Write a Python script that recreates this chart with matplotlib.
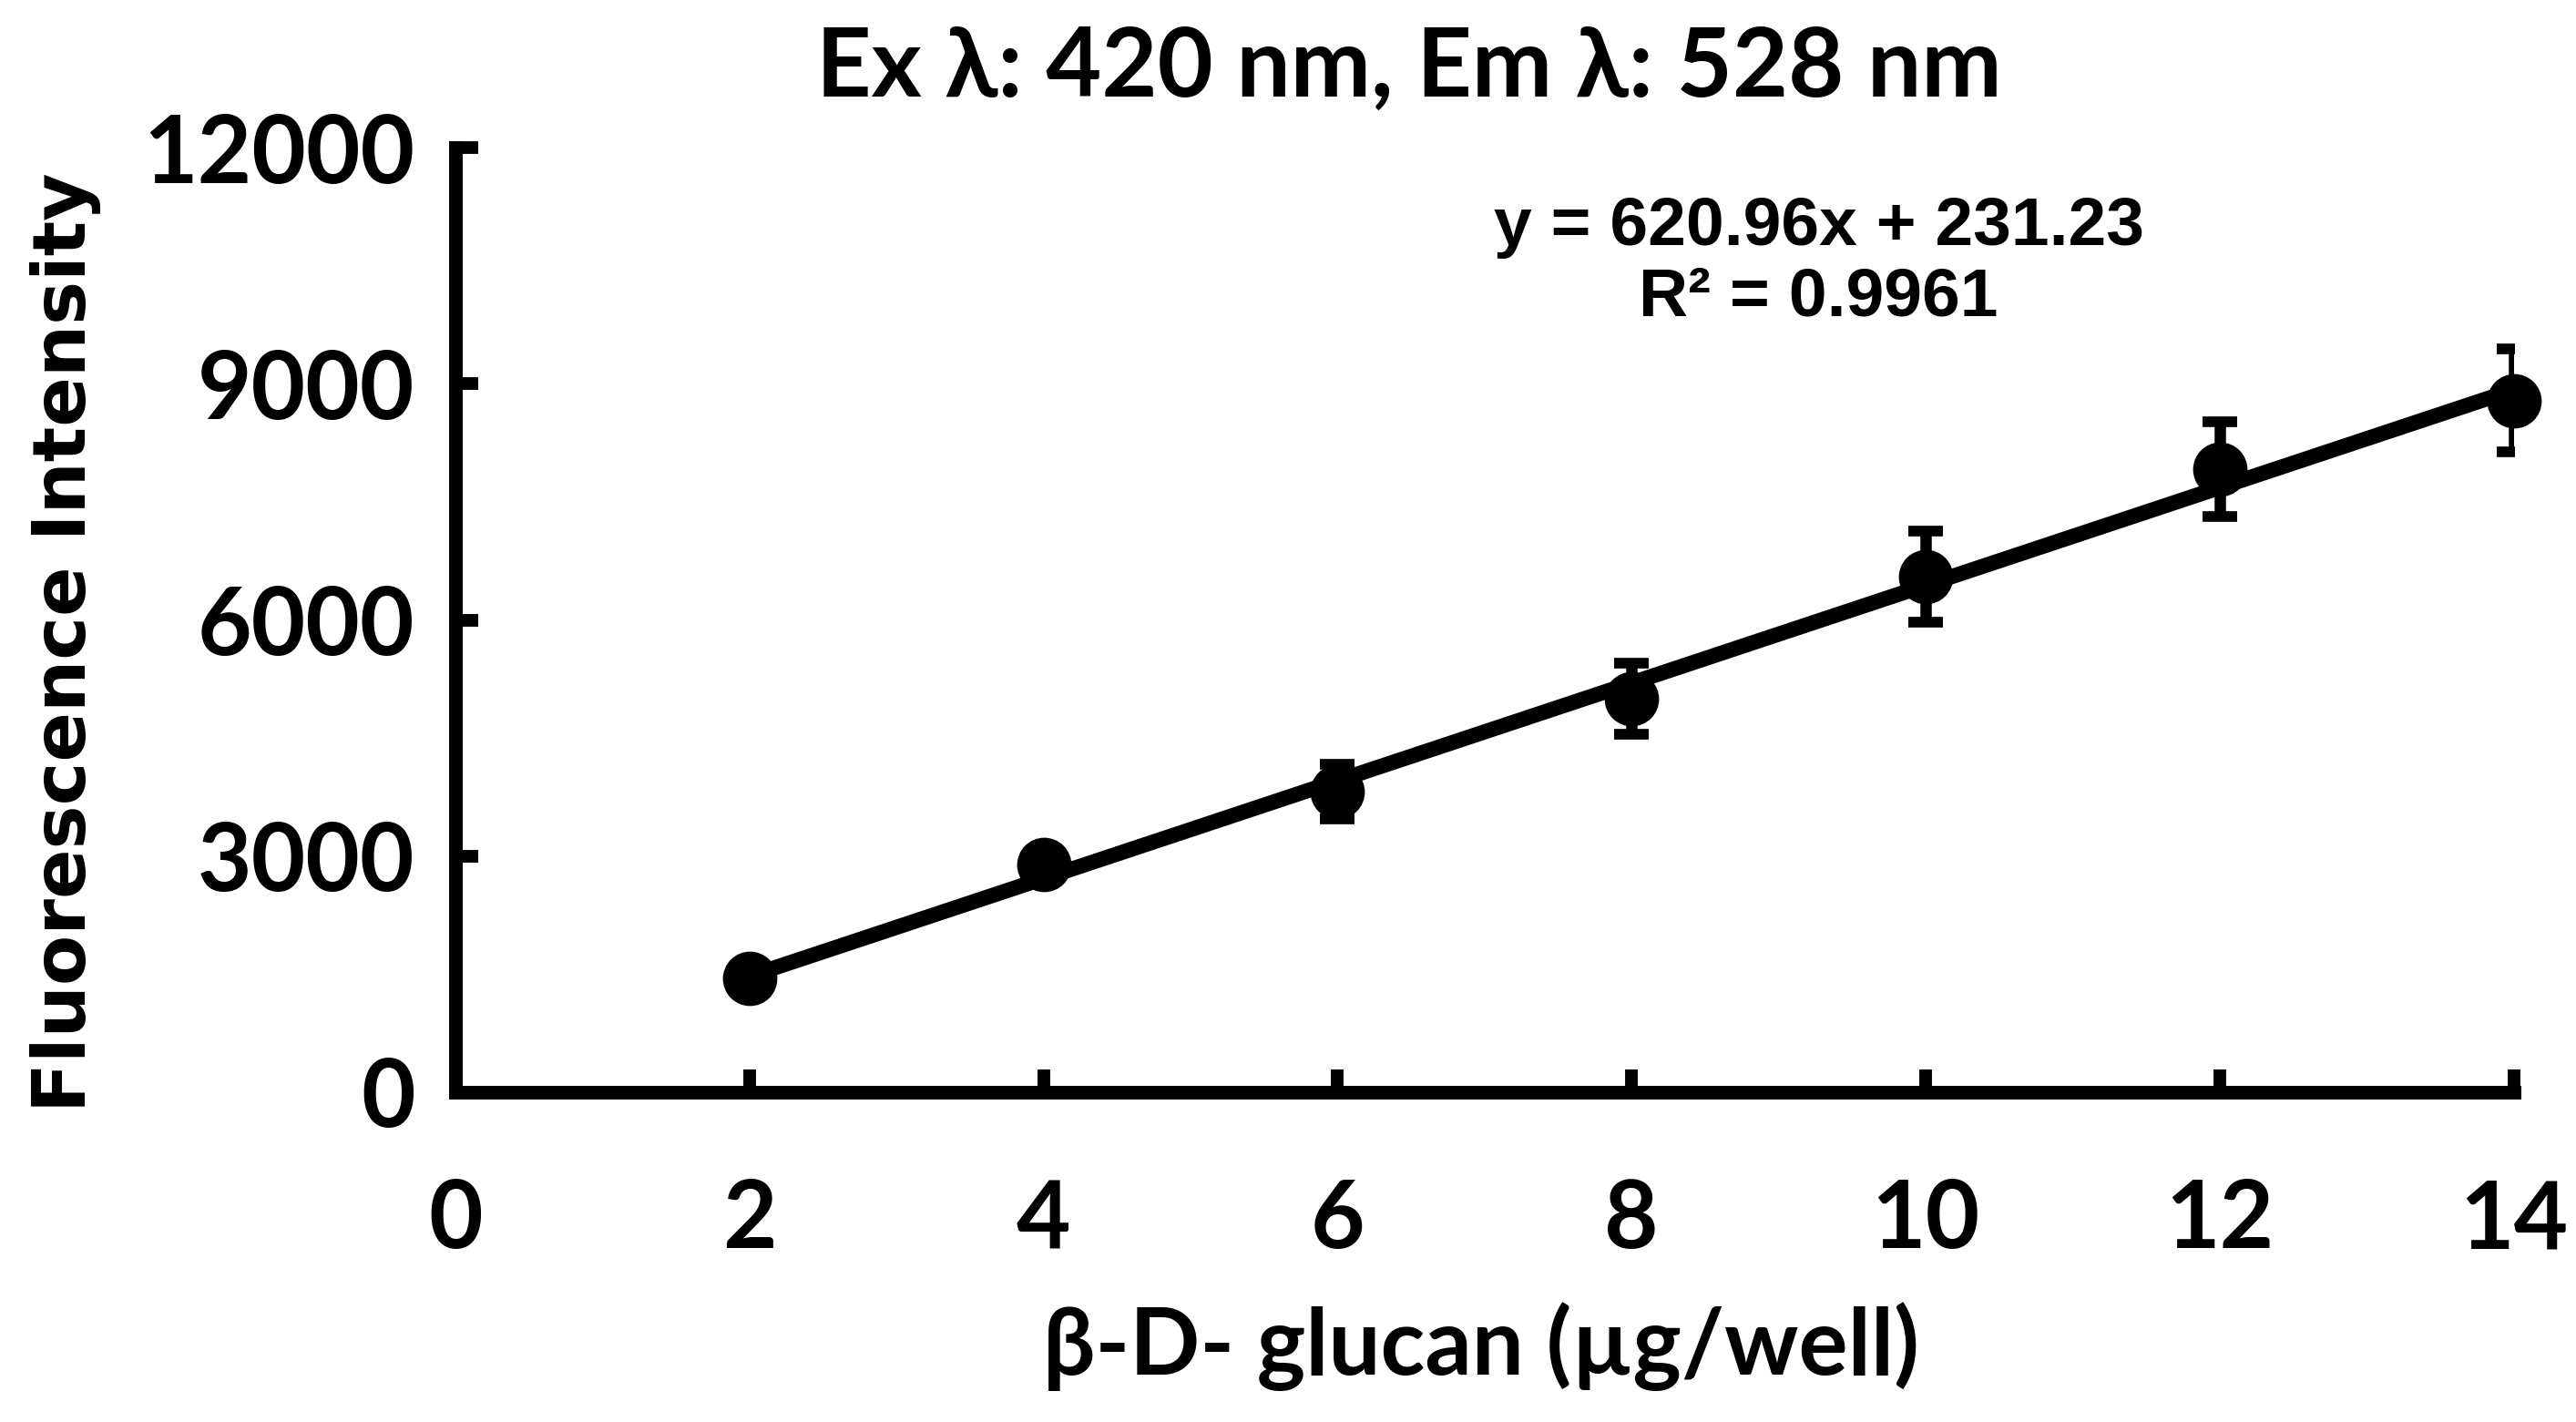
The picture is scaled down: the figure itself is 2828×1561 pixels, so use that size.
import numpy as np
import matplotlib.pyplot as plt

# beta-D-glucan per well vs mean fluorescence
conc = [2, 4, 6, 8, 10, 12, 14]
intensity = [1450, 2890, 3820, 5000, 6550, 7920, 8790]
err = [60, 90, 350, 450, 580, 600, 650]

# linear fit shown on the chart
slope = 620.96
intercept = 231.23
r2 = 0.9961

xticks = [0, 2, 4, 6, 8, 10, 12, 14]
yticks = [0, 3000, 6000, 9000, 12000]

font = ['Lato', 'DejaVu Sans']

fig = plt.figure(figsize=(14.14, 7.805), dpi=200)
ax = fig.add_axes([0.1768, 0.232, 0.799, 0.664])

# fitted line
fit_x = np.array([conc[0], conc[-1]])
ax.plot(fit_x, slope*fit_x + intercept, color="black", lw=6, zorder=2,
        solid_capstyle="butt")

# error bars then markers
ax.errorbar(conc, intensity, yerr=err, fmt="none", ecolor="black",
            elinewidth=4.5, capsize=7, capthick=4.2, zorder=3)
ax.plot(conc, intensity, "o", color="black", ms=20.5, clip_on=False, zorder=4)

ax.set_xlim(0, 14)
ax.set_ylim(0, 12000)
ax.set_xticks(xticks)
ax.set_yticks(yticks)
ax.set_xticklabels([str(t) for t in xticks], family=font, fontweight="bold", fontsize=37)
ax.set_yticklabels([str(t) for t in yticks], family=font, fontweight="bold", fontsize=37)
ax.tick_params(direction="in", length=9, width=5, color="black")
ax.tick_params(axis="x", pad=34)
ax.tick_params(axis="y", pad=16)

for s in ["top", "right"]:
    ax.spines[s].set_visible(False)
for s in ["left", "bottom"]:
    ax.spines[s].set_linewidth(5.4)

fig.text(0.547, 0.9515, "Ex λ: 420 nm, Em λ: 528 nm", family=font,
         fontweight="bold", fontsize=38, ha="center", va="center")
fig.text(0.706, 0.8152, "y = %.2fx + %.2f\nR² = %.4f" % (slope, intercept, r2),
         family=["Liberation Sans", "DejaVu Sans"], fontweight="bold", fontsize=27,
         ha="center", va="center", multialignment="center", linespacing=1.15)
fig.text(0.575, 0.0531, "β-D- glucan (µg/well)", family=font,
         fontweight="bold", fontsize=36.5, ha="center", va="center")
fig.text(0.0255, 0.5485, "Fluorescence Intensity", family="DejaVu Sans",
         fontweight="bold", fontsize=29, ha="center", va="center", rotation=90)

plt.savefig("out.png", dpi=200)
